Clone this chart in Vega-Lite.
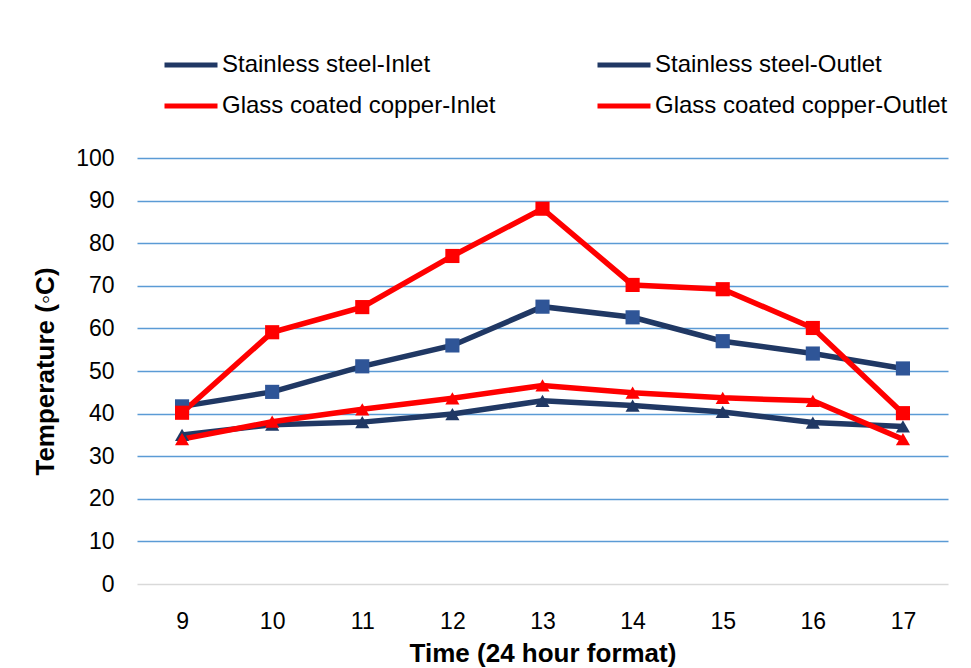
{
  "$schema": "https://vega.github.io/schema/vega-lite/v6.json",
  "autosize": "none",
  "width": 811,
  "height": 426,
  "padding": {"left": 137, "top": 158, "right": 23, "bottom": 84},
  "background": "white",
  "config": {
    "font": "Liberation Sans",
    "view": {"stroke": null},
    "legend": {"padding": 0}
  },
  "data": {
    "values": [
      {"time": 9, "series": "Stainless steel-Inlet", "temp": 35},
      {"time": 10, "series": "Stainless steel-Inlet", "temp": 37.4},
      {"time": 11, "series": "Stainless steel-Inlet", "temp": 38},
      {"time": 12, "series": "Stainless steel-Inlet", "temp": 39.9},
      {"time": 13, "series": "Stainless steel-Inlet", "temp": 43},
      {"time": 14, "series": "Stainless steel-Inlet", "temp": 41.9},
      {"time": 15, "series": "Stainless steel-Inlet", "temp": 40.4},
      {"time": 16, "series": "Stainless steel-Inlet", "temp": 37.9},
      {"time": 17, "series": "Stainless steel-Inlet", "temp": 37},
      {"time": 9, "series": "Stainless steel-Outlet", "temp": 41.7},
      {"time": 10, "series": "Stainless steel-Outlet", "temp": 45.1},
      {"time": 11, "series": "Stainless steel-Outlet", "temp": 51.1},
      {"time": 12, "series": "Stainless steel-Outlet", "temp": 56},
      {"time": 13, "series": "Stainless steel-Outlet", "temp": 65.1},
      {"time": 14, "series": "Stainless steel-Outlet", "temp": 62.6},
      {"time": 15, "series": "Stainless steel-Outlet", "temp": 57},
      {"time": 16, "series": "Stainless steel-Outlet", "temp": 54.1},
      {"time": 17, "series": "Stainless steel-Outlet", "temp": 50.6},
      {"time": 9, "series": "Glass coated copper-Inlet", "temp": 34},
      {"time": 10, "series": "Glass coated copper-Inlet", "temp": 38.1},
      {"time": 11, "series": "Glass coated copper-Inlet", "temp": 41},
      {"time": 12, "series": "Glass coated copper-Inlet", "temp": 43.6},
      {"time": 13, "series": "Glass coated copper-Inlet", "temp": 46.6},
      {"time": 14, "series": "Glass coated copper-Inlet", "temp": 44.9},
      {"time": 15, "series": "Glass coated copper-Inlet", "temp": 43.7},
      {"time": 16, "series": "Glass coated copper-Inlet", "temp": 43},
      {"time": 17, "series": "Glass coated copper-Inlet", "temp": 34},
      {"time": 9, "series": "Glass coated copper-Outlet", "temp": 40.2},
      {"time": 10, "series": "Glass coated copper-Outlet", "temp": 59.1},
      {"time": 11, "series": "Glass coated copper-Outlet", "temp": 65},
      {"time": 12, "series": "Glass coated copper-Outlet", "temp": 77},
      {"time": 13, "series": "Glass coated copper-Outlet", "temp": 88.1},
      {"time": 14, "series": "Glass coated copper-Outlet", "temp": 70.2},
      {"time": 15, "series": "Glass coated copper-Outlet", "temp": 69.2},
      {"time": 16, "series": "Glass coated copper-Outlet", "temp": 60.1},
      {"time": 17, "series": "Glass coated copper-Outlet", "temp": 40.1}
    ]
  },
  "encoding": {
    "x": {
      "field": "time",
      "type": "ordinal",
      "scale": {"type": "point", "padding": 0.5},
      "axis": {
        "title": "Time (24 hour format)",
        "titleFont": "Liberation Sans",
        "titleFontSize": 26,
        "titleFontWeight": "bold",
        "titleColor": "black",
        "titlePadding": 7,
        "labelAngle": 0,
        "labelFontSize": 23,
        "labelColor": "black",
        "labelPadding": 26,
        "ticks": false,
        "domain": false,
        "grid": false
      }
    },
    "y": {
      "field": "temp",
      "type": "quantitative",
      "scale": {"domain": [0, 100]},
      "axis": {
        "title": "Temperature (◦C)",
        "titleFont": "Liberation Sans",
        "titleFontSize": 26,
        "titleFontWeight": "bold",
        "titleColor": "black",
        "titlePadding": 17,
        "values": [0, 10, 20, 30, 40, 50, 60, 70, 80, 90, 100],
        "labelFontSize": 23,
        "labelColor": "black",
        "labelPadding": 23,
        "ticks": false,
        "domain": false,
        "grid": true,
        "gridWidth": 1.4,
        "gridColor": {"condition": {"test": "datum.value === 0", "value": "#D9D9D9"}, "value": "#5B9BD5"}
      }
    }
  },
  "layer": [
    {
      "mark": {"type": "line", "strokeWidth": 5.5},
      "encoding": {
        "stroke": {
          "field": "series",
          "type": "nominal",
          "scale": {
            "domain": ["Stainless steel-Inlet", "Stainless steel-Outlet", "Glass coated copper-Inlet", "Glass coated copper-Outlet"],
            "range": ["#203864", "#203864", "#FF0000", "#FF0000"]
          },
          "legend": {
            "title": null,
            "orient": "none",
            "legendX": 25,
            "legendY": -122,
            "direction": "horizontal",
            "columns": 2,
            "columnPadding": 91,
            "rowPadding": -13,
            "symbolType": "stroke",
            "symbolSize": 2809,
            "symbolStrokeWidth": 5,
            "labelFont": "Liberation Sans",
            "labelFontSize": 24,
            "labelColor": "black",
            "labelOffset": 2,
            "labelLimit": 400
          }
        }
      }
    },
    {
      "mark": {"type": "point", "filled": true, "opacity": 1, "size": 200, "strokeWidth": 0},
      "encoding": {
        "fill": {
          "condition": [
            {"test": "datum.series === 'Stainless steel-Inlet'", "value": "#203864"},
            {"test": "datum.series === 'Stainless steel-Outlet'", "value": "#2F5597"}
          ],
          "value": "#FF0000"
        },
        "shape": {
          "condition": {"test": "indexof(datum.series, 'Inlet') >= 0", "value": "triangle-up"},
          "value": "square"
        }
      }
    }
  ]
}
